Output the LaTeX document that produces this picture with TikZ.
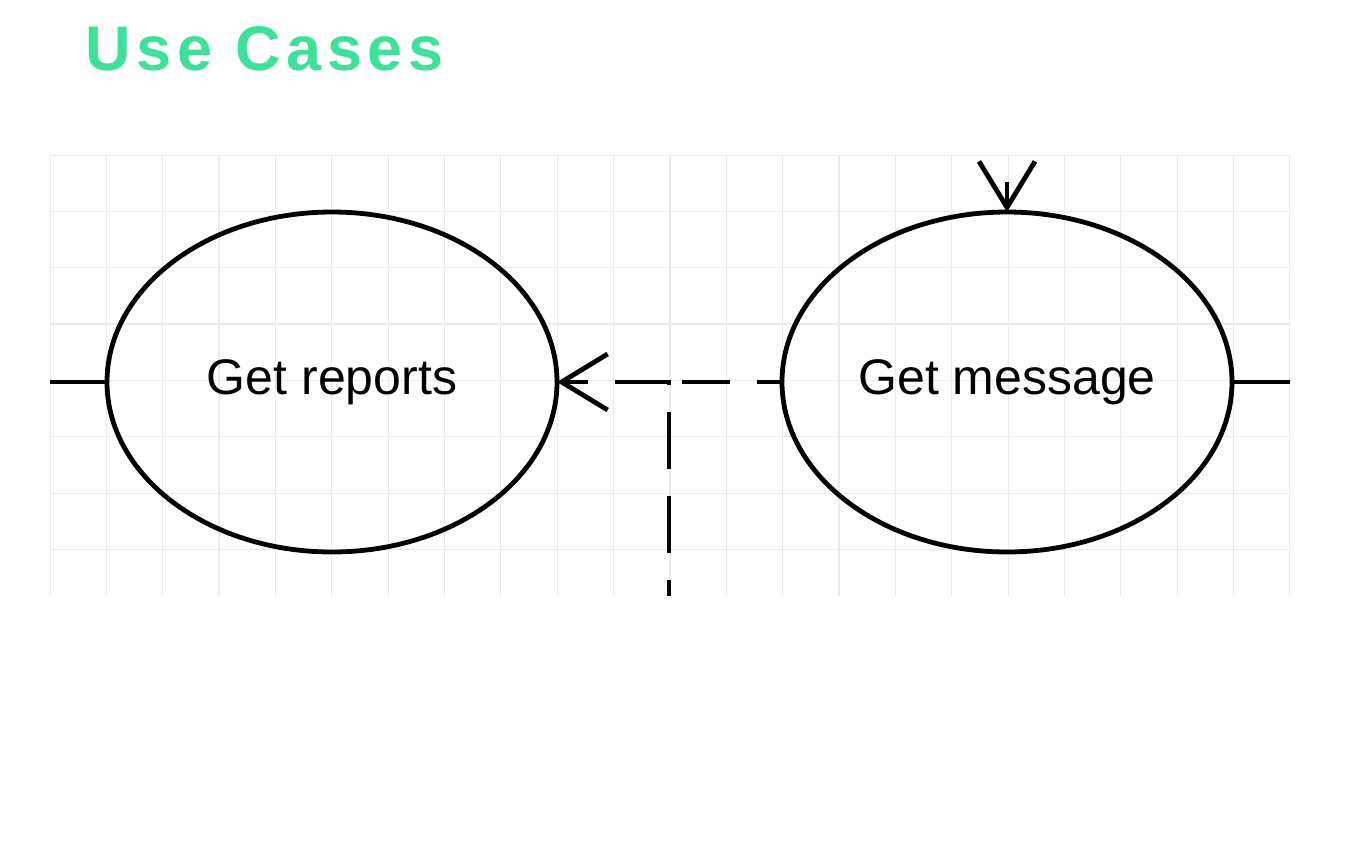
\documentclass[tikz,border=0pt]{standalone}
\usepackage{fontspec}
\setmainfont{Liberation Sans}
\usetikzlibrary{shapes.geometric,arrows.meta}
\definecolor{titlegreen}{RGB}{62,224,154}
\definecolor{gridgray}{RGB}{234,234,234}
\begin{document}
\begin{tikzpicture}[x=0.5pt,y=-0.5pt,
  usecase/.style={ellipse, draw, line width=2.4pt, minimum width=225pt, minimum height=170pt,
    inner sep=0pt, outer sep=0pt, font=\fontsize{25}{30}\selectfont},
  link/.style={line width=2.4pt},
  dep/.style={line width=2.4pt, dash pattern=on 28.5pt off 13.5pt},
  tipopen/.style={-{Straight Barb[length=23pt,width=28pt]}},
  gridline/.style={gridgray, line width=0.6pt}]
\useasboundingbox (0,0) rectangle (1364,846);
\node[anchor=base west, text=titlegreen, inner sep=0pt,
  font=\fontsize{31.5}{36}\selectfont\bfseries\addfontfeature{LetterSpace=9}] (title) at (85,70) {Use Cases};
\begin{scope}
\clip (50,155) rectangle (1290,596);
\foreach \i in {0,...,22} \draw[gridline] ({50+56.36*\i},155) -- ({50+56.36*\i},596);
\foreach \j in {0,...,7} \draw[gridline] (50,{155+56.36*\j}) -- (1290,{155+56.36*\j});
\node[usecase] (gr) at (332,382) {Get reports};
\node[usecase] (gm) at (1007,382) {Get message};
\coordinate (lend) at (50,382);
\coordinate (rend) at (1290,382);
\coordinate (vbot) at (669,596);
\coordinate (corner) at (669,382);
\coordinate (mid) at (682,382);
\coordinate (topstart) at (1007,155);
\draw[link] (lend) -- (gr.west);
\draw[link] (gm.east) -- (rend);
\draw[dep, dash phase=20.5pt, tipopen] (vbot) -- (corner) -- (gr.east);
\draw[dep, dash phase=16pt] (gm.west) -- (mid);
\draw[dep, dash phase=28.5pt, tipopen] (topstart) -- (gm.north);
\end{scope}
\end{tikzpicture}
\end{document}
